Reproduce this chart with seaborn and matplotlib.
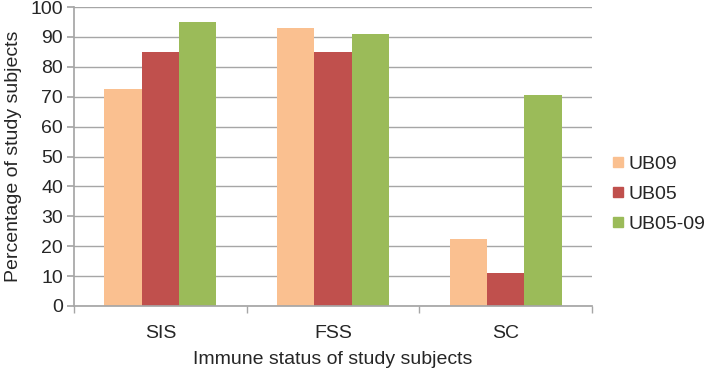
import matplotlib
matplotlib.use("Agg")
import matplotlib.pyplot as plt
import seaborn as sns
import pandas as pd
from matplotlib.lines import Line2D

categories = ["SIS", "FSS", "SC"]
series = ["UB09", "UB05", "UB05-09"]
ub09 = [72.5, 93.0, 22.3]
ub05 = [85.0, 85.0, 11.1]
ub0509 = [95.0, 91.0, 70.5]
colors = ["#FAC090", "#C0504D", "#9BBB59"]

rows = []
for s, vals in zip(series, [ub09, ub05, ub0509]):
    for c, v in zip(categories, vals):
        rows.append({"cat": c, "series": s, "val": v})
df = pd.DataFrame(rows)

sns.set_theme(style="white")
plt.rcParams["font.family"] = ["Liberation Sans", "DejaVu Sans"]

fs = 14

fig = plt.figure(figsize=(7.09, 3.72), dpi=100)
ax = fig.add_axes([74/709, 1-306/372, (592-74)/709, (306-7)/372])

sns.barplot(data=df, x="cat", y="val", hue="series", palette=colors,
            width=0.65, gap=0, ax=ax, legend=False, saturation=1,
            linewidth=0, edgecolor="none")

ax.set_ylim(0, 100)
ax.set_xlim(-0.5, 2.5)
ax.set_yticks(range(0, 101, 10))
ax.yaxis.grid(True, color="#A6A6A6", linewidth=1)
ax.set_axisbelow(True)
for s in ["top", "right"]:
    ax.spines[s].set_visible(False)
ax.spines["left"].set_color("#A6A6A6")
ax.spines["bottom"].set_color("#A6A6A6")
ax.tick_params(axis="y", length=5, color="#A6A6A6", labelsize=fs, direction="out", left=True, pad=3)
ax.set_xticks([0, 1, 2])
ax.set_xticklabels(categories)
ax.set_xticks([-0.5, 0.5, 1.5, 2.5], minor=True)
ax.tick_params(axis="x", which="major", length=0, labelsize=fs, pad=14)
ax.tick_params(axis="x", which="minor", length=5, color="#A6A6A6", bottom=True, direction="out")
ax.set_xlabel("Immune status of study subjects", fontsize=fs, labelpad=6)
ax.set_ylabel("Percentage of study subjects", fontsize=fs, labelpad=6)

handles = [Line2D([0], [0], marker="s", linestyle="", markersize=7,
                  markerfacecolor=c, markeredgecolor=c) for c in colors]
fig.legend(handles, series, loc="upper left", bbox_to_anchor=(608/709, 1-155/372),
           frameon=False, fontsize=fs, handletextpad=0.05, labelspacing=0.65,
           handlelength=1.0, borderaxespad=0, borderpad=0)

fig.savefig("out.png", dpi=100)
